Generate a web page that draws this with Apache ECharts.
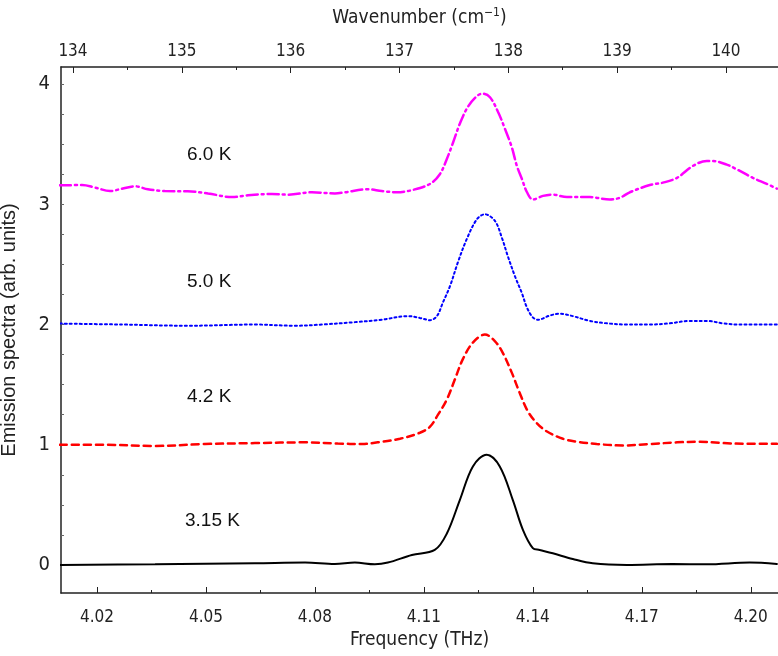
<!DOCTYPE html>
<html>
<head>
<meta charset="utf-8">
<script src="https://cdn.jsdelivr.net/npm/echarts@6/dist/echarts.min.js"></script>
<style>
  html, body { margin: 0; padding: 0; background: #fff; }
  #main { width: 778px; height: 656px; }
</style>
</head>
<body>
<div id="main"></div>
<script>
// emission spectra, stacked with offsets

var freqTicks = [4.02, 4.05, 4.08, 4.11, 4.14, 4.17, 4.20];
var freqMinor = [4.035, 4.065, 4.095, 4.125, 4.155, 4.185];
var waveTicks = [134, 135, 136, 137, 138, 139, 140];
var waveMinor = [134.5, 135.5, 136.5, 137.5, 138.5, 139.5];
var yTicks = [0, 1, 2, 3, 4];
var yMinor = [-0.25, 0, 0.25, 0.5, 0.75, 1, 1.25, 1.5, 1.75, 2, 2.25, 2.5, 2.75, 3, 3.25, 3.5, 3.75, 4];

var labels = ['3.15 K', '4.2 K', '5.0 K', '6.0 K'];

// 3.15 K
var freqA = [4.0098, 4.0360, 4.0635, 4.0773, 4.0855, 4.0910, 4.0965, 4.1001, 4.1067, 4.1130,
  4.1163, 4.1199, 4.1235, 4.1273, 4.1309, 4.1345, 4.1373, 4.1400, 4.1419, 4.1455,
  4.1510, 4.1565, 4.1659, 4.1785, 4.1879, 4.1997, 4.2072];
var valA = [0.0, 0.006, 0.014, 0.02, 0.008, 0.02, 0.006, 0.02, 0.083, 0.125,
  0.26, 0.54, 0.82, 0.917, 0.82, 0.54, 0.29, 0.14, 0.125, 0.097,
  0.05, 0.014, 0.0, 0.008, 0.006, 0.02, 0.008];

// 4.2 K
var freqB = [4.0098, 4.0222, 4.0360, 4.0497, 4.0635, 4.0773, 4.0863, 4.0929, 4.0973, 4.1034,
  4.1089, 4.1117, 4.1139, 4.1163, 4.1185, 4.1207, 4.1235, 4.1268, 4.1296, 4.1318,
  4.1342, 4.1364, 4.1386, 4.1411, 4.1439, 4.1483, 4.1521, 4.1576, 4.1648, 4.1722,
  4.1797, 4.1860, 4.1923, 4.1989, 4.2072];
var valB = [1.0, 1.0, 0.99, 1.006, 1.014, 1.02, 1.01, 1.006, 1.02, 1.05,
  1.1, 1.15, 1.25, 1.375, 1.54, 1.71, 1.85, 1.917, 1.86, 1.76,
  1.6, 1.43, 1.28, 1.18, 1.11, 1.05, 1.025, 1.006, 0.994, 1.006,
  1.02, 1.025, 1.014, 1.008, 1.008];

// 5.0 K
var freqC = [4.0098, 4.0269, 4.0450, 4.0635, 4.0745, 4.0819, 4.0910, 4.0984, 4.1056, 4.1089,
  4.1117, 4.1136, 4.1152, 4.1172, 4.1194, 4.1218, 4.1246, 4.1268, 4.1296, 4.1315,
  4.1331, 4.1351, 4.1370, 4.1384, 4.1400, 4.1414, 4.1447, 4.1474, 4.1510, 4.1557,
  4.1604, 4.1659, 4.1722, 4.1777, 4.1832, 4.1879, 4.1923, 4.1970, 4.2072];
var valC = [2.008, 2.0, 1.99, 2.0, 1.99, 2.0, 2.02, 2.04, 2.07, 2.055,
  2.036, 2.07, 2.18, 2.32, 2.52, 2.71, 2.875, 2.917, 2.86, 2.72,
  2.57, 2.4, 2.26, 2.14, 2.06, 2.04, 2.075, 2.09, 2.07, 2.03,
  2.01, 2.0, 2.0, 2.01, 2.03, 2.03, 2.01, 2.0, 2.0];

// 6.0 K
var freqD = [4.0098, 4.0159, 4.0194, 4.0236, 4.0269, 4.0305, 4.0340, 4.0387, 4.0450, 4.0506,
  4.0572, 4.0616, 4.0682, 4.0726, 4.0792, 4.0855, 4.0883, 4.0946, 4.0984, 4.1026,
  4.1070, 4.1117, 4.1144, 4.1163, 4.1180, 4.1199, 4.1221, 4.1246, 4.1262, 4.1282,
  4.1304, 4.1323, 4.1342, 4.1356, 4.1370, 4.1384, 4.1400, 4.1428, 4.1455, 4.1494,
  4.1557, 4.1612, 4.1640, 4.1667, 4.1722, 4.1758, 4.1797, 4.1841, 4.1879, 4.1896,
  4.1934, 4.1962, 4.2006, 4.2044, 4.2072];
var valD = [3.158, 3.16, 3.14, 3.11, 3.13, 3.15, 3.125, 3.11, 3.108, 3.09,
  3.06, 3.075, 3.086, 3.08, 3.1, 3.09, 3.10, 3.125, 3.11, 3.10,
  3.12, 3.17, 3.25, 3.375, 3.51, 3.67, 3.81, 3.9, 3.92, 3.89,
  3.77, 3.63, 3.475, 3.32, 3.21, 3.1, 3.04, 3.07, 3.08, 3.06,
  3.06, 3.04, 3.055, 3.1, 3.16, 3.18, 3.22, 3.32, 3.36, 3.36,
  3.33, 3.29, 3.22, 3.17, 3.13];

function pairs(xs, ys) {
  var out = [];
  for (var i = 0; i < xs.length; i++) {
    out.push([xs[i], ys[i]]);
  }
  return out;
}

// the axis text in the original is a narrow face; use one if installed
function hasFont(name) {
  var ctx = document.createElement('canvas').getContext('2d');
  var probe = 'Frequency 4.02 WwMmIl';
  ctx.font = '40px monospace';
  var a = ctx.measureText(probe).width;
  ctx.font = "40px '" + name + "', monospace";
  return ctx.measureText(probe).width !== a;
}

var narrowList = ['Liberation Sans Narrow', 'Arial Narrow', 'DejaVu Sans Condensed', 'Roboto Condensed', 'Open Sans Condensed'];
var narrow = null;
for (var k = 0; k < narrowList.length; k++) {
  if (hasFont(narrowList[k])) { narrow = narrowList[k]; break; }
}
var font = "'Liberation Sans', Arial, sans-serif";
var axisFont = narrow ? "'" + narrow + "', sans-serif" : font;
var scale = narrow ? 1 : 0.84;
var tickSize = Math.round(17 * scale);
var nameSize = Math.round(19 * scale);
var axisColor = '#222';

function lineSeries(name, xs, ys, color, width, type) {
  return {
    name: name,
    type: 'line',
    xAxisIndex: 0,
    yAxisIndex: 0,
    data: pairs(xs, ys),
    smooth: 0.35,
    showSymbol: false,
    animation: false,
    lineStyle: { color: color, width: width, type: type, cap: 'round' }
  };
}

var chart = echarts.init(document.getElementById('main'), null, { renderer: 'canvas' });

var option = {
  animation: false,
  grid: { left: 61, right: 0, top: 67, bottom: 63, containLabel: false, outerBoundsMode: 'none' },
  xAxis: [
    {
      type: 'value', position: 'bottom', min: 4.0101, max: 4.2075,
      name: 'Frequency (THz)', nameLocation: 'middle', nameGap: 35,
      nameTextStyle: { fontFamily: axisFont, fontSize: nameSize, color: axisColor },
      axisLine: { show: true, onZero: false, lineStyle: { color: axisColor, width: 1.5 } },
      axisTick: { inside: true, length: 6, customValues: freqTicks, lineStyle: { color: axisColor } },
      axisLabel: {
        customValues: freqTicks, margin: 16, fontFamily: axisFont, fontSize: tickSize, color: axisColor,
        formatter: function (v) { return v.toFixed(2); }
      },
      splitLine: { show: false }
    },
    {
      type: 'value', position: 'bottom', min: 4.0101, max: 4.2075,
      axisLine: { show: false, onZero: false },
      axisTick: { inside: true, length: 3, customValues: freqMinor, lineStyle: { color: axisColor } },
      axisLabel: { show: false },
      splitLine: { show: false }
    },
    {
      type: 'value', position: 'top', min: 133.89, max: 140.478,
      name: '{a|Wavenumber (cm}{s|−1}{a|)}', nameLocation: 'middle', nameGap: 38,
      nameTextStyle: {
        rich: {
          a: { fontFamily: axisFont, fontSize: nameSize, color: axisColor },
          s: { fontFamily: axisFont, fontSize: 12, color: axisColor, verticalAlign: 'top', padding: [0, 0, 10, 0] }
        }
      },
      axisLine: { show: true, onZero: false, lineStyle: { color: axisColor, width: 1.5 } },
      axisTick: { inside: true, length: 6, customValues: waveTicks, lineStyle: { color: axisColor } },
      axisLabel: { customValues: waveTicks, margin: 7, fontFamily: axisFont, fontSize: tickSize, color: axisColor },
      splitLine: { show: false }
    },
    {
      type: 'value', position: 'top', min: 133.89, max: 140.478,
      axisLine: { show: false, onZero: false },
      axisTick: { inside: true, length: 3, customValues: waveMinor, lineStyle: { color: axisColor } },
      axisLabel: { show: false },
      splitLine: { show: false }
    }
  ],
  yAxis: [
    {
      type: 'value', min: -0.233, max: 4.142,
      name: 'Emission spectra (arb. units)', nameLocation: 'middle', nameGap: 42,
      nameTextStyle: { fontFamily: font, fontSize: 20, color: axisColor },
      axisLine: { show: true, onZero: false, lineStyle: { color: axisColor, width: 1.5 } },
      axisTick: { inside: true, length: 3, customValues: yMinor, lineStyle: { color: '#666' } },
      axisLabel: { customValues: yTicks, margin: 11, fontFamily: axisFont, fontSize: tickSize + 3, color: axisColor },
      splitLine: { show: false }
    }
  ],
  graphic: [
    { type: 'text', left: 185, top: 511, style: { text: labels[0], fontFamily: font, fontSize: 19, fill: '#111' } },
    { type: 'text', left: 187, top: 387, style: { text: labels[1], fontFamily: font, fontSize: 19, fill: '#111' } },
    { type: 'text', left: 187, top: 272, style: { text: labels[2], fontFamily: font, fontSize: 19, fill: '#111' } },
    { type: 'text', left: 187, top: 145, style: { text: labels[3], fontFamily: font, fontSize: 19, fill: '#111' } }
  ],
  series: [
    lineSeries(labels[0], freqA, valA, '#000000', 2, 'solid'),
    lineSeries(labels[1], freqB, valB, '#ff0000', 2.5, [7, 5]),
    lineSeries(labels[2], freqC, valC, '#0000ff', 2, [2, 3]),
    lineSeries(labels[3], freqD, valD, '#ff00ff', 2.5, [11, 4, 2, 4])
  ]
};

chart.setOption(option);
</script>
</body>
</html>
